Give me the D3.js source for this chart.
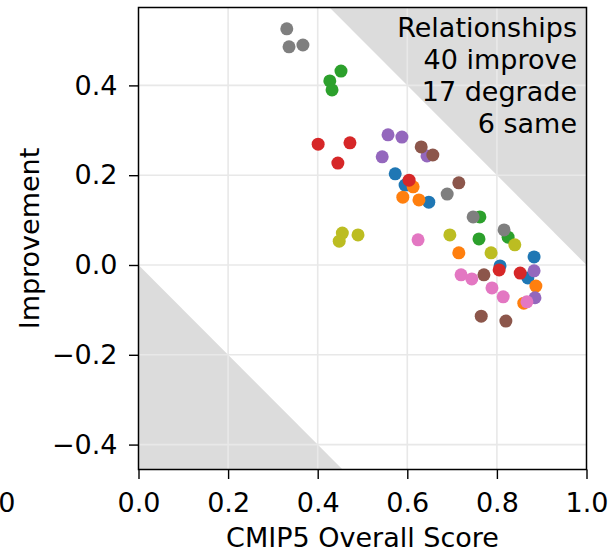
<!DOCTYPE html>
<html>
<head>
<meta charset="utf-8">
<script src="https://cdn.jsdelivr.net/npm/d3@7"></script>
<style>
  body { margin: 0; background: #fff; }
  text { font-family: "DejaVu Sans", sans-serif; fill: #000; }
</style>
</head>
<body>
<svg id="chart" width="612" height="555"></svg>
<script>
// tab10 colour per group, in drawing order
const groups = ["blue", "orange", "green", "red", "purple", "brown", "pink", "gray", "olive"];
const groupColors = ["#1f77b4", "#ff7f0e", "#2ca02c", "#d62728", "#9467bd", "#8c564b", "#e377c2", "#7f7f7f", "#bcbd22"];

// CMIP5 overall score (x) and improvement (y), per group
const scores = {
  blue:   [0.573, 0.595, 0.648, 0.883, 0.807, 0.869],
  orange: [0.613, 0.590, 0.626, 0.715, 0.887, 0.860],
  green:  [0.452, 0.427, 0.432, 0.762, 0.760, 0.825],
  red:    [0.401, 0.472, 0.445, 0.604, 0.805, 0.852],
  purple: [0.557, 0.588, 0.544, 0.644, 0.883, 0.885],
  brown:  [0.631, 0.657, 0.715, 0.771, 0.765, 0.820],
  pink:   [0.624, 0.720, 0.744, 0.789, 0.814, 0.867],
  gray:   [0.331, 0.336, 0.367, 0.689, 0.747, 0.816],
  olive:  [0.455, 0.448, 0.490, 0.695, 0.787, 0.840]
};
const improvements = {
  blue:   [0.203, 0.178, 0.140, 0.018, -0.002, -0.029],
  orange: [0.174, 0.151, 0.145, 0.027, -0.047, -0.085],
  green:  [0.432, 0.410, 0.390, 0.107, 0.058, 0.062],
  red:    [0.269, 0.272, 0.227, 0.189, -0.011, -0.018],
  purple: [0.290, 0.285, 0.241, 0.243, -0.013, -0.073],
  brown:  [0.263, 0.245, 0.183, -0.022, -0.114, -0.125],
  pink:   [0.056, -0.022, -0.031, -0.051, -0.071, -0.082],
  gray:   [0.526, 0.486, 0.490, 0.158, 0.107, 0.078],
  olive:  [0.071, 0.053, 0.067, 0.067, 0.027, 0.045]
};

const xTicks = [0.0, 0.2, 0.4, 0.6, 0.8, 1.0];
const yTicks = [-0.4, -0.2, 0.0, 0.2, 0.4];
const summaryLines = ["Relationships", "40 improve", "17 degrade", "6 same"];

const svg = d3.select("#chart");
const margin = {left: 138.5, top: 7.5, right: 25.5, bottom: 85.5};
const width = 612 - margin.left - margin.right;
const height = 555 - margin.top - margin.bottom;
const fontSize = 27;

const x = d3.scaleLinear().domain([0, 1]).range([0, width]);
const y = d3.scaleLinear().domain([-0.4555, 0.5735]).range([height, 0]);
const [yMin, yMax] = y.domain();

const g = svg.append("g").attr("transform", `translate(${margin.left},${margin.top})`);

// shaded regions where a score would leave [0, 1]
g.append("path")
  .attr("d", d3.line()([[x(1 - yMax), y(yMax)], [x(1), y(yMax)], [x(1), y(0)]]) + "Z")
  .attr("fill", "#dcdcdc");
g.append("path")
  .attr("d", d3.line()([[x(0), y(0)], [x(0), y(yMin)], [x(-yMin), y(yMin)]]) + "Z")
  .attr("fill", "#dcdcdc");

// grid
g.append("g").selectAll("line").data(xTicks.slice(1, -1)).enter().append("line")
  .attr("x1", d => x(d)).attr("x2", d => x(d)).attr("y1", 0).attr("y2", height)
  .attr("stroke", "#e8e8e8").attr("stroke-width", 1.6);
g.append("g").selectAll("line").data(yTicks).enter().append("line")
  .attr("y1", d => y(d)).attr("y2", d => y(d)).attr("x1", 0).attr("x2", width)
  .attr("stroke", "#e8e8e8").attr("stroke-width", 1.6);

// points
groups.forEach((grp, i) => {
  const pts = d3.zip(scores[grp], improvements[grp]);
  g.append("g").selectAll("circle").data(pts).enter().append("circle")
    .attr("cx", d => x(d[0]))
    .attr("cy", d => y(d[1]))
    .attr("r", 6.5)
    .attr("fill", groupColors[i]);
});

// axes
const fmt = d3.format(".1f");
const xAxis = g.append("g").attr("transform", `translate(0,${height})`)
  .call(d3.axisBottom(x).tickValues(xTicks).tickFormat(fmt).tickSize(9.5).tickSizeOuter(0).tickPadding(14));
const yAxis = g.append("g")
  .call(d3.axisLeft(y).tickValues(yTicks).tickFormat(fmt).tickSize(9.5).tickSizeOuter(0).tickPadding(11.5));
[xAxis, yAxis].forEach(a => {
  a.select(".domain").remove();
  a.selectAll("line").attr("stroke", "#000").attr("stroke-width", 1.4);
  a.selectAll("text").style("font-size", fontSize + "px").style("font-family", "DejaVu Sans");
});

// frame
g.append("rect").attr("width", width).attr("height", height)
  .attr("fill", "none").attr("stroke", "#000").attr("stroke-width", 1.5);

// summary text
g.append("text")
  .attr("text-anchor", "end")
  .style("font-size", fontSize + "px")
  .selectAll("tspan").data(summaryLines).enter().append("tspan")
  .attr("x", width - 9.5)
  .attr("y", (d, i) => 29.5 + i * 32)
  .text(d => d);

// axis labels
svg.append("text")
  .attr("x", margin.left + width / 2).attr("y", 547)
  .attr("text-anchor", "middle").style("font-size", fontSize + "px")
  .text("CMIP5 Overall Score");
svg.append("text")
  .attr("transform", `translate(39,${margin.top + height / 2}) rotate(-90)`)
  .attr("text-anchor", "middle").style("font-size", fontSize + "px")
  .text("Improvement");

// edge of the neighbouring panel's tick label, cut by the figure border
svg.append("text")
  .attr("x", 15.5).attr("y", 512)
  .attr("text-anchor", "end").style("font-size", fontSize + "px")
  .text("1.0");
</script>
</body>
</html>
